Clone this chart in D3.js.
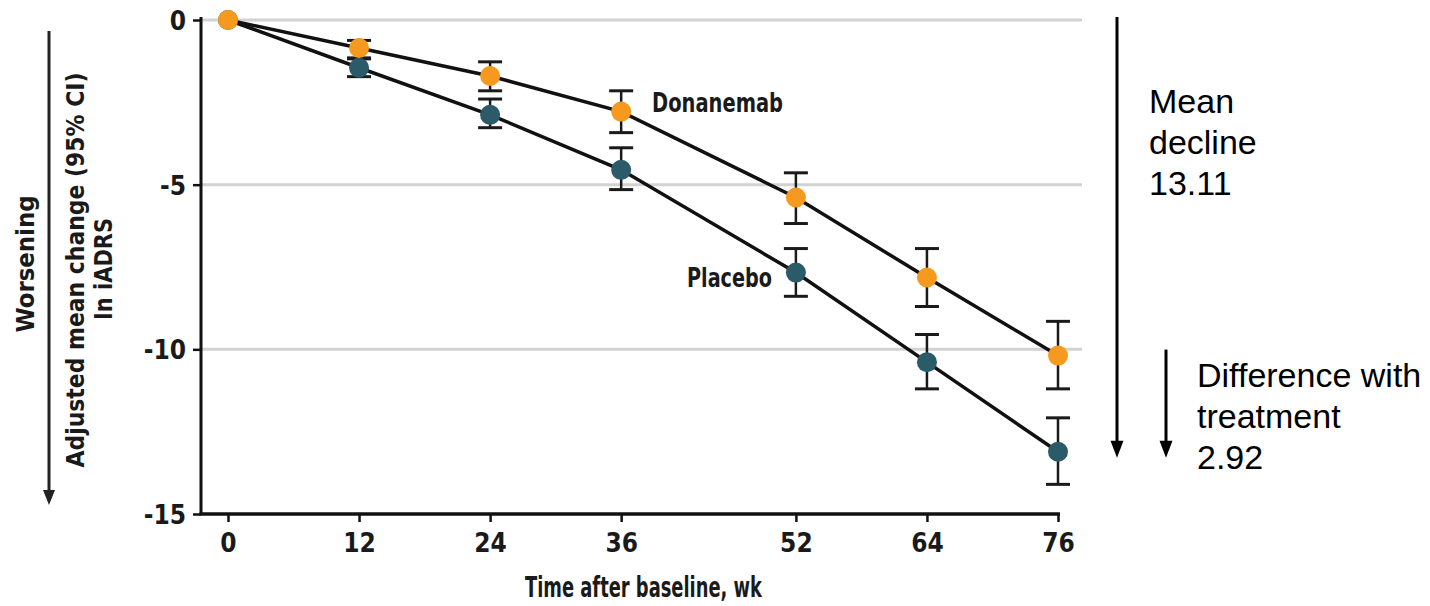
<!DOCTYPE html>
<html>
<head>
<meta charset="utf-8">
<script src="https://cdn.jsdelivr.net/npm/d3@7"></script>
<style>
  html, body { margin: 0; padding: 0; background: #fff; }
  svg { display: block; }
  .cond { font-family: "DejaVu Sans Condensed", "DejaVu Sans", sans-serif; font-stretch: condensed; font-weight: bold; fill: #1a1a1a; }
  .note { font-family: "Liberation Sans", Arial, sans-serif; fill: #000; }
</style>
</head>
<body>
<svg id="chart" width="1430" height="606"></svg>
<script>
// Visit weeks
const weeks = [0, 12, 24, 36, 52, 64, 76];
const weekLabels = ["0", "12", "24", "36", "52", "64", "76"];

// Donanemab: adjusted mean change with 95% CI
const donanemabMean = [0, -0.85, -1.70, -2.78, -5.39, -7.82, -10.19];
const donanemabLow  = [0, -1.15, -2.15, -3.42, -6.18, -8.70, -11.20];
const donanemabHigh = [0, -0.62, -1.27, -2.15, -4.64, -6.94, -9.15];

// Placebo: adjusted mean change with 95% CI
const placeboMean = [0, -1.45, -2.88, -4.55, -7.67, -10.39, -13.11];
const placeboLow  = [0, -1.72, -3.27, -5.15, -8.39, -11.20, -14.10];
const placeboHigh = [0, -1.18, -2.40, -3.88, -6.94, -9.55, -12.08];

// Y axis ticks and gridlines
const yTicks = [0, -5, -10, -15];
const gridValues = [0, -5, -10];

// Summary annotations
const meanDecline = 13.11;
const treatmentDiff = 2.92;

const svg = d3.select("#chart");

const axisX = 201;
const x = d3.scaleLinear().domain([0, 76]).range([228, 1058]);
const y = d3.scaleLinear().domain([-15, 0]).range([514, 20]);

// squeeze a label to a set width (the typeface is narrower than DejaVu Condensed)
function fit(sel, w) {
  return sel.attr("textLength", w).attr("lengthAdjust", "spacingAndGlyphs");
}

// gridlines
svg.append("g").selectAll("line").data(gridValues).join("line")
  .attr("x1", axisX).attr("x2", 1082)
  .attr("y1", d => y(d)).attr("y2", d => y(d))
  .attr("stroke", "#d2d2d2").attr("stroke-width", 3);

// Y axis
const yAxis = d3.axisLeft(y).tickValues(yTicks).tickSize(8).tickPadding(7)
  .tickFormat(d => d === 0 ? "0" : "-" + Math.abs(d));
const gy = svg.append("g").attr("transform", `translate(${axisX},0)`).call(yAxis);
gy.select(".domain").attr("stroke", "#111").attr("stroke-width", 3)
  .attr("d", `M0,${y(0) - 3}V${y(-15)}`);
gy.selectAll(".tick line").attr("stroke", "#111").attr("stroke-width", 2.5);
gy.selectAll(".tick text").attr("class", "cond").style("font-size", "26px").attr("dy", "0.36em");

// X axis
const xAxis = d3.axisBottom(x).tickValues(weeks).tickSize(8).tickPadding(12)
  .tickFormat((d, i) => weekLabels[i]);
const gx = svg.append("g").attr("transform", `translate(0,${y(-15)})`).call(xAxis);
gx.select(".domain").attr("stroke", "#111").attr("stroke-width", 3.5)
  .attr("d", `M${axisX - 1.5},0H${x(76) + 2}`);
gx.selectAll(".tick line").attr("stroke", "#111").attr("stroke-width", 2.5);
gx.selectAll(".tick text").attr("class", "cond").style("font-size", "26px");

// axis titles
fit(svg.append("text").attr("class", "cond")
  .attr("x", 525).attr("y", 597)
  .style("font-size", "28px").text("Time after baseline, wk"), 237);

const midY = (y(0) + y(-15)) / 2;
fit(svg.append("text").attr("class", "cond")
  .attr("transform", `translate(34,${midY - 3}) rotate(-90)`).attr("text-anchor", "middle")
  .style("font-size", "25px").text("Worsening"), 137);
fit(svg.append("text").attr("class", "cond")
  .attr("transform", `translate(84,${midY + 3}) rotate(-90)`).attr("text-anchor", "middle")
  .style("font-size", "25px").text("Adjusted mean change (95% CI)"), 395);
fit(svg.append("text").attr("class", "cond")
  .attr("transform", `translate(112,${midY + 2}) rotate(-90)`).attr("text-anchor", "middle")
  .style("font-size", "25px").text("In iADRS"), 102);

// "Worsening" arrow
svg.append("line").attr("x1", 49).attr("x2", 49).attr("y1", 31).attr("y2", 492)
  .attr("stroke", "#222").attr("stroke-width", 3);
svg.append("path").attr("d", "M43,490 L55,490 L49,505 Z").attr("fill", "#222");

// series
const series = [
  { name: "Placebo", mean: placeboMean, low: placeboLow, high: placeboHigh, color: "#2b5a69" },
  { name: "Donanemab", mean: donanemabMean, low: donanemabLow, high: donanemabHigh, color: "#f5991f" }
];

const line = d3.line().x((d, i) => x(weeks[i])).y(d => y(d));

series.forEach(s => {
  svg.append("path").datum(s.mean).attr("d", line)
    .attr("fill", "none").attr("stroke", "#111").attr("stroke-width", 3.5);
});

series.forEach(s => {
  const g = svg.append("g");
  const idx = d3.range(1, weeks.length);
  g.selectAll("line.v").data(idx).join("line").attr("class", "v")
    .attr("x1", i => x(weeks[i])).attr("x2", i => x(weeks[i]))
    .attr("y1", i => y(s.high[i])).attr("y2", i => y(s.low[i]))
    .attr("stroke", "#1a1a1a").attr("stroke-width", 2.5);
  g.selectAll("line.top").data(idx).join("line").attr("class", "top")
    .attr("x1", i => x(weeks[i]) - 12).attr("x2", i => x(weeks[i]) + 12)
    .attr("y1", i => y(s.high[i])).attr("y2", i => y(s.high[i]))
    .attr("stroke", "#1a1a1a").attr("stroke-width", 3);
  g.selectAll("line.bot").data(idx).join("line").attr("class", "bot")
    .attr("x1", i => x(weeks[i]) - 12).attr("x2", i => x(weeks[i]) + 12)
    .attr("y1", i => y(s.low[i])).attr("y2", i => y(s.low[i]))
    .attr("stroke", "#1a1a1a").attr("stroke-width", 3);
});

series.forEach(s => {
  svg.append("g").selectAll("circle").data(s.mean).join("circle")
    .attr("cx", (d, i) => x(weeks[i])).attr("cy", d => y(d))
    .attr("r", 10).attr("fill", s.color);
});

// series labels
fit(svg.append("text").attr("class", "cond").attr("x", 652).attr("y", 112)
  .style("font-size", "26px").text("Donanemab"), 131);
fit(svg.append("text").attr("class", "cond").attr("x", 687).attr("y", 287)
  .style("font-size", "26px").text("Placebo"), 85);

// right-hand annotations
const bigX = 1117, smallX = 1166;
const tipY = y(-meanDecline) + 6;
svg.append("line").attr("x1", bigX).attr("x2", bigX)
  .attr("y1", y(0) - 3).attr("y2", tipY - 14)
  .attr("stroke", "#000").attr("stroke-width", 3);
svg.append("path").attr("d", `M${bigX - 6.5},${tipY - 17} L${bigX + 6.5},${tipY - 17} L${bigX},${tipY} Z`).attr("fill", "#000");

svg.append("line").attr("x1", smallX).attr("x2", smallX)
  .attr("y1", y(-meanDecline + treatmentDiff) - 6).attr("y2", tipY - 14)
  .attr("stroke", "#000").attr("stroke-width", 3);
svg.append("path").attr("d", `M${smallX - 6.5},${tipY - 17} L${smallX + 6.5},${tipY - 17} L${smallX},${tipY} Z`).attr("fill", "#000");

const noteA = ["Mean", "decline", meanDecline.toFixed(2)];
svg.append("g").selectAll("text").data(noteA).join("text").attr("class", "note")
  .attr("x", 1149).attr("y", (d, i) => 113 + i * 41)
  .style("font-size", "34px").text(d => d);

const noteB = ["Difference with", "treatment", treatmentDiff.toFixed(2)];
svg.append("g").selectAll("text").data(noteB).join("text").attr("class", "note")
  .attr("x", 1197).attr("y", (d, i) => 387 + i * 41)
  .style("font-size", "34px").text(d => d);
</script>
</body>
</html>
